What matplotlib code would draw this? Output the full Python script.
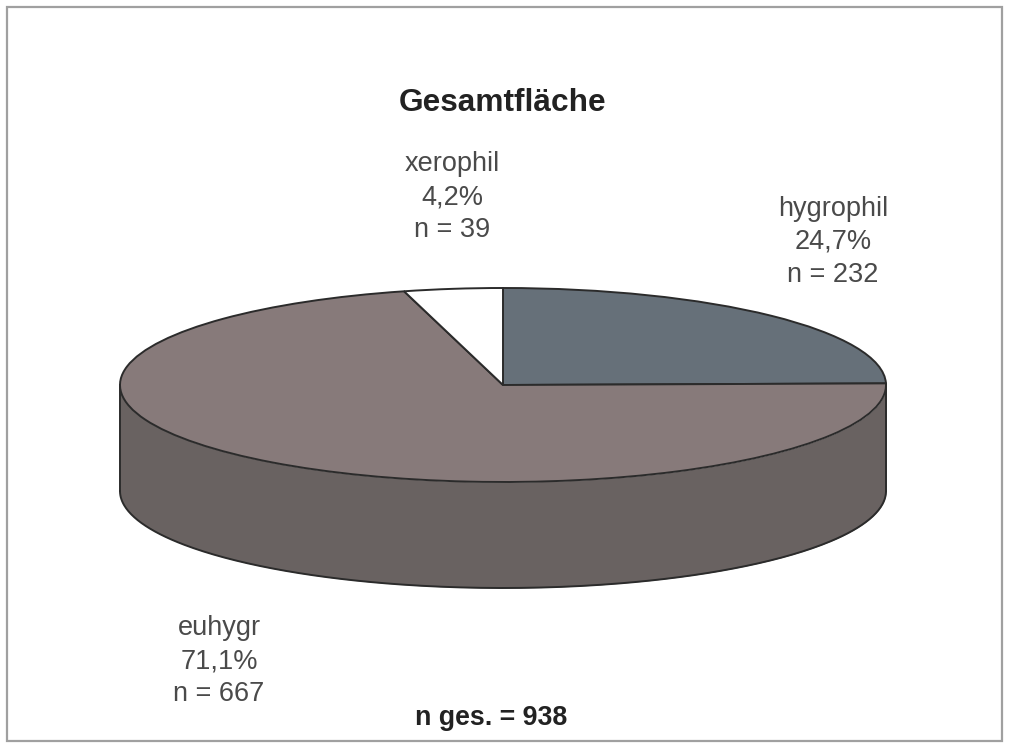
import matplotlib
matplotlib.use('Agg')
import matplotlib.pyplot as plt
from matplotlib.patches import Rectangle
import numpy as np

plt.rcParams['font.family'] = ['Liberation Sans', 'DejaVu Sans']

title = 'Gesamtfläche'
categories = ['hygrophil', 'euhygr', 'xerophil']
counts = [232, 667, 39]
percent_labels = ['24,7%', '71,1%', '4,2%']
total_label = 'n ges. = 938'
top_colors = ['#667079', '#877a7a', '#ffffff']
side_color = '#696261'
edge_color = '#2b2b2b'

W, H = 1009, 747
# pixel positions of the label blocks (centre x, centre y)
label_pos = {'hygrophil': (833, 242), 'euhygr': (219, 661), 'xerophil': (452, 197)}

fig = plt.figure(figsize=(W/100, H/100), dpi=100, facecolor='white')

# frame round the picture
fig.patches.append(Rectangle((7/W, 1-741/H), 995/W, 734/H, transform=fig.transFigure,
                             fill=False, edgecolor='#a0a0a0', lw=1.6))

# top ellipse spans these pixels, the wall hangs below it
left, right, top, bottom = 120, 886, 288, 482
depth = 106/((bottom-top)/2)
ax = fig.add_axes([left/W, 1-bottom/H, (right-left)/W, (bottom-top)/H])

wedges, _ = ax.pie(counts, colors=top_colors, startangle=90, counterclock=False, radius=1,
                   wedgeprops={'edgecolor': edge_color, 'linewidth': 1.4, 'zorder': 3})
ax.set_aspect('auto')
ax.set_xlim(-1, 1)
ax.set_ylim(-1, 1)
ax.axis('off')
for w in wedges:
    w.set_clip_on(False)

# side wall of the cylinder
t = np.linspace(np.pi, 2*np.pi, 300)
wall = ax.fill_between(np.cos(t), np.sin(t), np.sin(t)-depth, color=side_color, lw=0, zorder=1, clip_on=False)
ax.plot(np.cos(t), np.sin(t)-depth, color=edge_color, lw=1.4, zorder=2, clip_on=False)
ax.plot([-1, -1], [0, -depth], color=edge_color, lw=1.4, zorder=2, clip_on=False)
ax.plot([1, 1], [0, -depth], color=edge_color, lw=1.4, zorder=2, clip_on=False)

def put(x, y, s, **kw):
    fig.text(x/W, 1-y/H, s, ha='center', va='center', **kw)

put(503, 103, title, fontsize=22.8, fontweight='bold', color='#222222')
for name, n, p in zip(categories, counts, percent_labels):
    x, y = label_pos[name]
    put(x, y, f'{name}\n{p}\nn = {n}', fontsize=19.5, color='#4a4a4a', linespacing=1.33)
put(491, 718, total_label, fontsize=19.3, fontweight='bold', color='#222222')

fig.savefig('out.png', dpi=100)
